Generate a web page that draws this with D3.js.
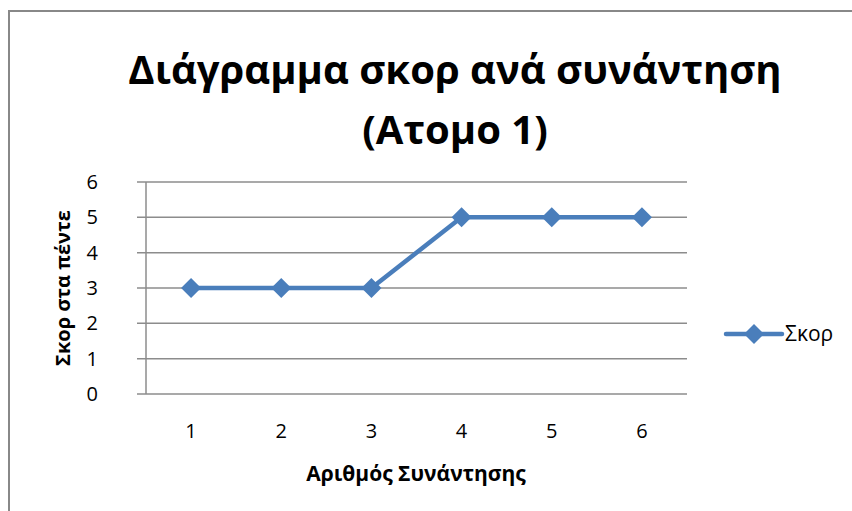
<!DOCTYPE html>
<html>
<head>
<meta charset="utf-8">
<script src="https://d3js.org/d3.v7.min.js"></script>
<style type="text/css">
  body { margin: 0; background: #fff; }
  text { font-family: "Open Sans", "Noto Sans", sans-serif; fill: #000; }
</style>
</head>
<body>
<svg id="chart" width="852" height="511"></svg>
<script>
const titleLines = ['Διάγραμμα σκορ ανά συνάντηση', '(Ατομο 1)'];
const categories = ['1', '2', '3', '4', '5', '6'];
const scores = [3, 3, 3, 5, 5, 5];
const yTicks = [0, 1, 2, 3, 4, 5, 6];
const seriesName = 'Σκορ';
const xTitle = 'Αριθμός Συνάντησης';
const yTitle = 'Σκορ στα πέντε';

const chart = d3.select('#chart');
const blue = '#4a7ebb';

// outer chart border (runs off the right and bottom edges)
chart.append('rect')
  .attr('x', 9).attr('y', 11)
  .attr('width', 900).attr('height', 600)
  .attr('fill', 'none')
  .attr('stroke', '#888')
  .attr('stroke-width', 2);

const margin = { left: 146, right: 687, top: 182, bottom: 394 };

const x = d3.scaleBand().domain(categories).range([margin.left, margin.right]);
const y = d3.scaleLinear().domain([0, 6]).range([margin.bottom, margin.top]);

// title
chart.append('g').selectAll('text')
  .data(titleLines)
  .join('text')
  .attr('x', 455)
  .attr('y', (d, i) => 70 + i * 60)
  .attr('dy', '0.35em')
  .attr('text-anchor', 'middle')
  .attr('font-size', 40)
  .attr('font-weight', 'bold')
  .text(d => d);

// gridlines
chart.append('g').selectAll('line')
  .data(yTicks)
  .join('line')
  .attr('x1', margin.left - 9)
  .attr('x2', margin.right)
  .attr('y1', d => y(d))
  .attr('y2', d => y(d))
  .attr('stroke', '#8c8c8c')
  .attr('stroke-width', 1.5);

// y axis line
chart.append('line')
  .attr('x1', margin.left).attr('x2', margin.left)
  .attr('y1', margin.top).attr('y2', margin.bottom)
  .attr('stroke', '#8c8c8c')
  .attr('stroke-width', 1.5);

// y tick labels
chart.append('g').selectAll('text')
  .data(yTicks)
  .join('text')
  .attr('x', 98)
  .attr('y', d => y(d))
  .attr('dy', '0.35em')
  .attr('text-anchor', 'end')
  .attr('font-size', 20)
  .text(d => d);

// x tick labels
chart.append('g').selectAll('text')
  .data(categories)
  .join('text')
  .attr('x', d => x(d) + x.bandwidth() / 2)
  .attr('y', 431)
  .attr('dy', '0.35em')
  .attr('text-anchor', 'middle')
  .attr('font-size', 20)
  .text(d => d);

// axis titles
chart.append('text')
  .attr('x', 416).attr('y', 474)
  .attr('dy', '0.35em')
  .attr('text-anchor', 'middle')
  .attr('font-size', 21)
  .attr('font-weight', 'bold')
  .text(xTitle);

chart.append('text')
  .attr('transform', 'translate(63,288) rotate(-90)')
  .attr('dy', '0.35em')
  .attr('text-anchor', 'middle')
  .attr('font-size', 20)
  .attr('font-weight', 'bold')
  .text(yTitle);

// series line
const line = d3.line()
  .x((d, i) => x(categories[i]) + x.bandwidth() / 2)
  .y(d => y(d));

chart.append('path')
  .datum(scores)
  .attr('fill', 'none')
  .attr('stroke', blue)
  .attr('stroke-width', 4.5)
  .attr('stroke-linejoin', 'round')
  .attr('d', line);

const diamond = d3.symbol().type(d3.symbolSquare).size(200);

chart.append('g').selectAll('path')
  .data(scores)
  .join('path')
  .attr('d', diamond)
  .attr('transform', (d, i) => `translate(${x(categories[i]) + x.bandwidth() / 2},${y(d)}) rotate(45)`)
  .attr('fill', blue);

// legend
const legend = chart.append('g').attr('transform', 'translate(726,334)');
legend.append('line')
  .attr('x1', 0).attr('x2', 56)
  .attr('stroke', blue)
  .attr('stroke-width', 4.5)
  .attr('stroke-linecap', 'round');
legend.append('path')
  .attr('d', diamond)
  .attr('transform', 'translate(28,0) rotate(45)')
  .attr('fill', blue);
legend.append('text')
  .attr('x', 59)
  .attr('dy', '0.35em')
  .attr('font-size', 21)
  .text(seriesName);
</script>
</body>
</html>
